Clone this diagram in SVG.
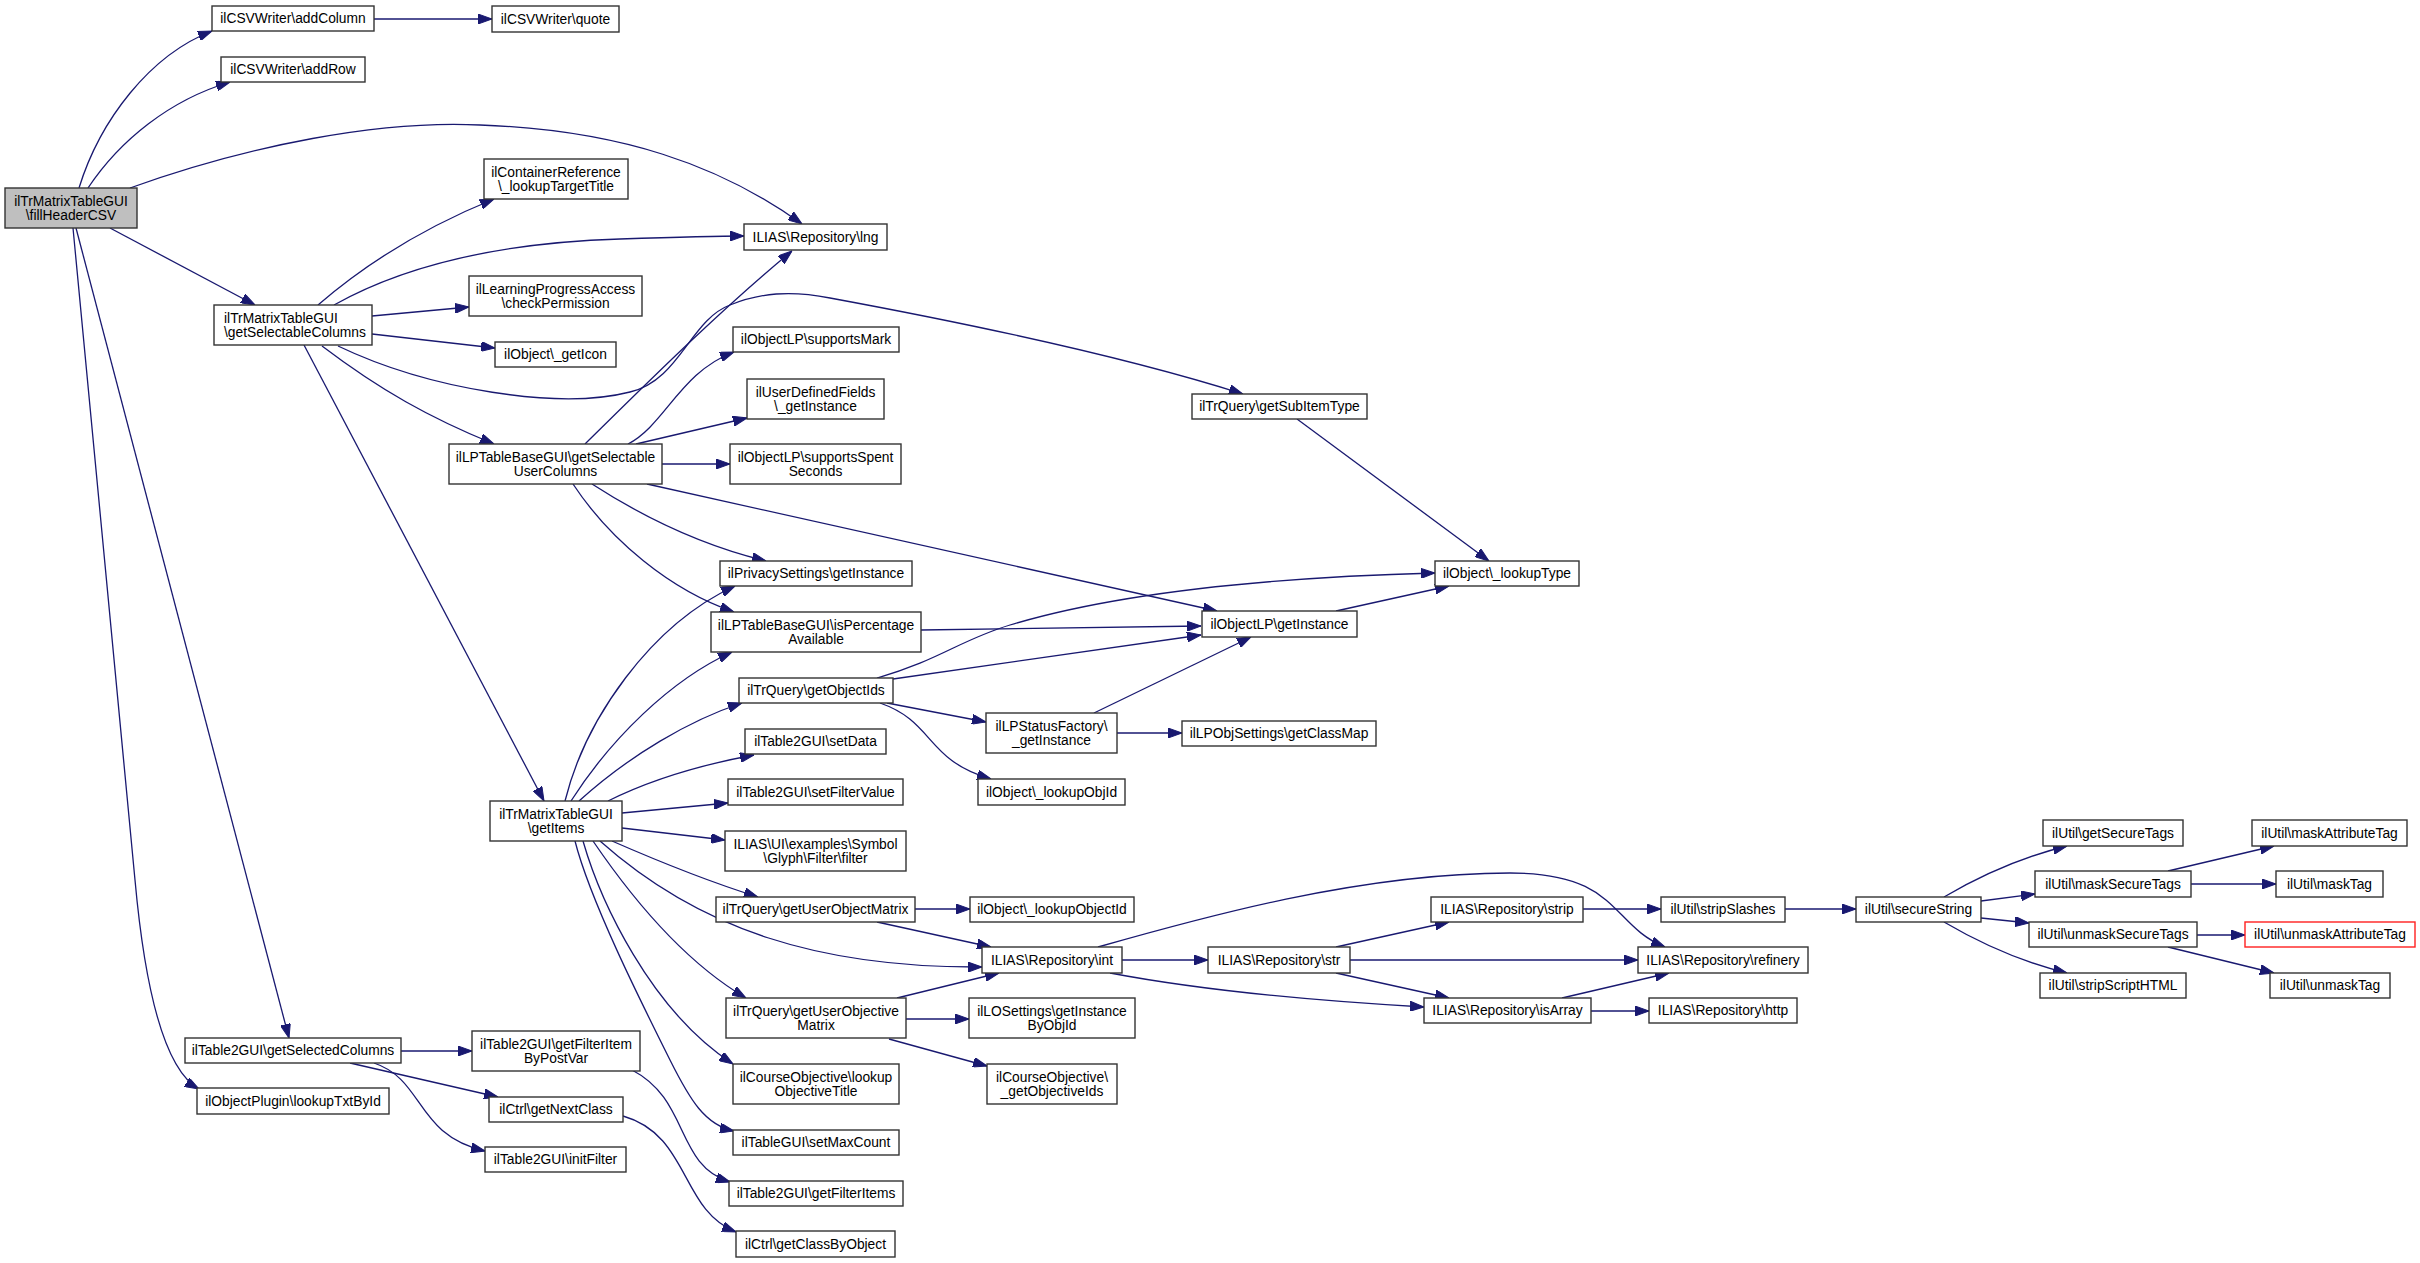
<svg xmlns="http://www.w3.org/2000/svg" width="2420" height="1263" viewBox="0 0 2420 1263">
<defs>
<style>
.n rect{fill:#fff;stroke:#333;stroke-width:1.4}
.n.root rect{fill:#bfbfbf}
.n.red rect{stroke:#ff2020}
.n text{font-family:"Liberation Sans",Arial,Helvetica,sans-serif;font-size:13.8px;fill:#000;text-anchor:middle}
.e path{fill:none;stroke:#191970;stroke-width:1.3;marker-end:url(#a)}
</style>
<marker id="a" viewBox="0 0 14 10" refX="14" refY="5" markerWidth="14" markerHeight="10" markerUnits="userSpaceOnUse" orient="auto">
<path d="M0,0 L14,5 L0,10 z" fill="#191970" stroke="#191970" stroke-width="1"/>
</marker>
</defs>
<rect width="2420" height="1263" fill="#fff"/>
<g class="e" id="edges">
<path d="M79,188 C100,120 150,55 212,31"/>
<path d="M88,188 C120,140 170,100 230,82"/>
<path d="M130,188 C250,145 380,120 480,125 C620,130 720,165 802,224"/>
<path d="M110,228 L255,305"/>
<path d="M76,228 L289,1038"/>
<path d="M73,228 L135,880 C145,990 165,1070 199,1089"/>
<path d="M318,305 C370,260 430,225 494,199"/>
<path d="M334,305 C400,268 490,243 620,239 C680,237 710,236 744,236"/>
<path d="M372,316 L469,307"/>
<path d="M372,334 L495,348"/>
<path d="M338,346 C430,390 560,410 630,392 C680,380 690,320 730,305 C760,293 790,290 830,298 C960,322 1120,355 1243,394"/>
<path d="M322,346 C380,390 430,418 494,444"/>
<path d="M304,345 L544,801"/>
<path d="M585,444 C640,390 720,310 792,251"/>
<path d="M628,444 C665,425 680,372 734,352"/>
<path d="M636,444 L747,418"/>
<path d="M662,464 L730,464"/>
<path d="M592,484 C640,515 700,545 766,561"/>
<path d="M573,484 C610,540 670,590 734,612"/>
<path d="M647,484 L1217,611"/>
<path d="M565,801 C585,720 650,625 735,586"/>
<path d="M571,801 C610,740 670,680 732,652"/>
<path d="M579,801 C630,755 690,720 742,703"/>
<path d="M608,801 C650,780 700,765 754,755"/>
<path d="M622,813 L728,803"/>
<path d="M622,828 L725,840"/>
<path d="M612,841 C660,862 710,882 758,897"/>
<path d="M600,841 C700,930 820,968 982,967"/>
<path d="M593,841 C640,910 690,965 746,998"/>
<path d="M583,841 C600,900 650,1010 733,1064"/>
<path d="M575,841 C590,900 640,1000 670,1060 C690,1100 705,1125 734,1131"/>
<path d="M877,678 C940,660 960,640 1010,625 C1110,595 1250,578 1435,573"/>
<path d="M893,679 L1201,635"/>
<path d="M887,703 L986,722"/>
<path d="M880,703 C935,722 925,760 991,779"/>
<path d="M921,630 L1201,626"/>
<path d="M1094,713 L1251,637"/>
<path d="M1117,733 L1182,733"/>
<path d="M1336,611 L1449,586"/>
<path d="M1297,419 L1489,561"/>
<path d="M915,909 L970,909"/>
<path d="M877,922 L991,947"/>
<path d="M897,998 L999,973"/>
<path d="M906,1019 L969,1019"/>
<path d="M889,1039 L987,1066"/>
<path d="M401,1051 L472,1051"/>
<path d="M350,1063 L498,1097"/>
<path d="M374,1063 C425,1080 415,1135 485,1151"/>
<path d="M632,1070 C690,1100 675,1165 730,1182"/>
<path d="M623,1116 C690,1135 680,1210 736,1232"/>
<path d="M1122,960 L1208,960"/>
<path d="M1098,947 C1200,918 1360,873 1510,873 C1620,873 1610,925 1665,947"/>
<path d="M1110,973 C1200,990 1300,1000 1424,1007"/>
<path d="M1336,947 L1449,922"/>
<path d="M1350,960 L1638,960"/>
<path d="M1336,973 L1449,998"/>
<path d="M1583,909 L1661,909"/>
<path d="M1785,909 L1856,909"/>
<path d="M1562,998 L1669,973"/>
<path d="M1591,1011 L1649,1011"/>
<path d="M1944,897 C1990,870 2030,855 2067,846"/>
<path d="M1981,901 L2035,894"/>
<path d="M1981,918 L2029,923"/>
<path d="M1944,922 C1990,949 2030,964 2067,973"/>
<path d="M2168,871 L2274,846"/>
<path d="M2191,884 L2276,884"/>
<path d="M2197,935 L2245,935"/>
<path d="M2168,947 L2274,973"/>
<path d="M374,19 L492,19"/>
</g>
<g class="n root" id="fillHeaderCSV"><rect x="5" y="188" width="132" height="40"/><text x="71" y="205.5">ilTrMatrixTableGUI</text><text x="71" y="219.5">\fillHeaderCSV</text></g>
<g class="n" id="addColumn"><rect x="212" y="6" width="162" height="25"/><text x="293" y="23">ilCSVWriter\addColumn</text></g>
<g class="n" id="quote"><rect x="492" y="6" width="127" height="26"/><text x="555.5" y="23.5">ilCSVWriter\quote</text></g>
<g class="n" id="addRow"><rect x="221" y="57" width="144" height="25"/><text x="293" y="74">ilCSVWriter\addRow</text></g>
<g class="n" id="lookupTargetTitle"><rect x="484" y="159" width="144" height="40"/><text x="556" y="176.5">ilContainerReference</text><text x="556" y="190.5">\_lookupTargetTitle</text></g>
<g class="n" id="lng"><rect x="744" y="224" width="143" height="26"/><text x="815.5" y="241.5">ILIAS\Repository\lng</text></g>
<g class="n" id="checkPermission"><rect x="469" y="276" width="173" height="40"/><text x="555.5" y="293.5">ilLearningProgressAccess</text><text x="555.5" y="307.5">\checkPermission</text></g>
<g class="n" id="getSelectableColumns"><rect x="214" y="305" width="158" height="40"/><text x="224" y="322.5" style="text-anchor:start">ilTrMatrixTableGUI</text><text x="224" y="336.5" style="text-anchor:start">\getSelectableColumns</text></g>
<g class="n" id="getIcon"><rect x="495" y="342" width="121" height="25"/><text x="555.5" y="359">ilObject\_getIcon</text></g>
<g class="n" id="supportsMark"><rect x="733" y="327" width="166" height="25"/><text x="816" y="344">ilObjectLP\supportsMark</text></g>
<g class="n" id="udfGetInstance"><rect x="747" y="379" width="137" height="40"/><text x="815.5" y="396.5">ilUserDefinedFields</text><text x="815.5" y="410.5">\_getInstance</text></g>
<g class="n" id="getSubItemType"><rect x="1192" y="394" width="175" height="25"/><text x="1279.5" y="411">ilTrQuery\getSubItemType</text></g>
<g class="n" id="getSelectableUserColumns"><rect x="449" y="444" width="213" height="40"/><text x="555.5" y="461.5">ilLPTableBaseGUI\getSelectable</text><text x="555.5" y="475.5">UserColumns</text></g>
<g class="n" id="supportsSpentSeconds"><rect x="730" y="444" width="171" height="40"/><text x="815.5" y="461.5">ilObjectLP\supportsSpent</text><text x="815.5" y="475.5">Seconds</text></g>
<g class="n" id="privacyGetInstance"><rect x="720" y="561" width="192" height="25"/><text x="816" y="578">ilPrivacySettings\getInstance</text></g>
<g class="n" id="lookupType"><rect x="1435" y="561" width="144" height="25"/><text x="1507" y="578">ilObject\_lookupType</text></g>
<g class="n" id="isPercentageAvailable"><rect x="711" y="612" width="210" height="40"/><text x="816" y="629.5">ilLPTableBaseGUI\isPercentage</text><text x="816" y="643.5">Available</text></g>
<g class="n" id="objectLPGetInstance"><rect x="1202" y="611" width="155" height="26"/><text x="1279.5" y="628.5">ilObjectLP\getInstance</text></g>
<g class="n" id="getObjectIds"><rect x="739" y="678" width="154" height="25"/><text x="816" y="695">ilTrQuery\getObjectIds</text></g>
<g class="n" id="lpStatusFactory"><rect x="986" y="713" width="131" height="40"/><text x="1051.5" y="730.5">ilLPStatusFactory\</text><text x="1051.5" y="744.5">_getInstance</text></g>
<g class="n" id="getClassMap"><rect x="1182" y="721" width="194" height="25"/><text x="1279" y="738">ilLPObjSettings\getClassMap</text></g>
<g class="n" id="setData"><rect x="745" y="729" width="141" height="25"/><text x="815.5" y="746">ilTable2GUI\setData</text></g>
<g class="n" id="setFilterValue"><rect x="728" y="779" width="175" height="26"/><text x="815.5" y="796.5">ilTable2GUI\setFilterValue</text></g>
<g class="n" id="lookupObjId"><rect x="978" y="779" width="147" height="26"/><text x="1051.5" y="796.5">ilObject\_lookupObjId</text></g>
<g class="n" id="getItems"><rect x="490" y="801" width="132" height="40"/><text x="556" y="818.5">ilTrMatrixTableGUI</text><text x="556" y="832.5">\getItems</text></g>
<g class="n" id="filter"><rect x="725" y="831" width="181" height="40"/><text x="815.5" y="848.5">ILIAS\UI\examples\Symbol</text><text x="815.5" y="862.5">\Glyph\Filter\filter</text></g>
<g class="n" id="getSecureTags"><rect x="2043" y="820" width="140" height="26"/><text x="2113" y="837.5">ilUtil\getSecureTags</text></g>
<g class="n" id="maskAttributeTag"><rect x="2252" y="820" width="155" height="26"/><text x="2329.5" y="837.5">ilUtil\maskAttributeTag</text></g>
<g class="n" id="maskSecureTags"><rect x="2035" y="871" width="156" height="26"/><text x="2113" y="888.5">ilUtil\maskSecureTags</text></g>
<g class="n" id="maskTag"><rect x="2276" y="871" width="107" height="26"/><text x="2329.5" y="888.5">ilUtil\maskTag</text></g>
<g class="n" id="getUserObjectMatrix"><rect x="716" y="897" width="199" height="25"/><text x="815.5" y="914">ilTrQuery\getUserObjectMatrix</text></g>
<g class="n" id="lookupObjectId"><rect x="970" y="897" width="164" height="25"/><text x="1052" y="914">ilObject\_lookupObjectId</text></g>
<g class="n" id="strip"><rect x="1431" y="897" width="152" height="25"/><text x="1507" y="914">ILIAS\Repository\strip</text></g>
<g class="n" id="stripSlashes"><rect x="1661" y="897" width="124" height="25"/><text x="1723" y="914">ilUtil\stripSlashes</text></g>
<g class="n" id="secureString"><rect x="1856" y="897" width="125" height="25"/><text x="1918.5" y="914">ilUtil\secureString</text></g>
<g class="n" id="unmaskSecureTags"><rect x="2029" y="922" width="168" height="25"/><text x="2113" y="939">ilUtil\unmaskSecureTags</text></g>
<g class="n red" id="unmaskAttributeTag"><rect x="2245" y="922" width="170" height="25"/><text x="2330" y="939">ilUtil\unmaskAttributeTag</text></g>
<g class="n" id="int"><rect x="982" y="947" width="140" height="26"/><text x="1052" y="964.5">ILIAS\Repository\int</text></g>
<g class="n" id="str"><rect x="1208" y="947" width="142" height="26"/><text x="1279" y="964.5">ILIAS\Repository\str</text></g>
<g class="n" id="refinery"><rect x="1638" y="947" width="170" height="26"/><text x="1723" y="964.5">ILIAS\Repository\refinery</text></g>
<g class="n" id="stripScriptHTML"><rect x="2040" y="973" width="146" height="25"/><text x="2113" y="990">ilUtil\stripScriptHTML</text></g>
<g class="n" id="unmaskTag"><rect x="2270" y="973" width="120" height="25"/><text x="2330" y="990">ilUtil\unmaskTag</text></g>
<g class="n" id="isArray"><rect x="1424" y="998" width="167" height="25"/><text x="1507.5" y="1015">ILIAS\Repository\isArray</text></g>
<g class="n" id="http"><rect x="1649" y="998" width="148" height="25"/><text x="1723" y="1015">ILIAS\Repository\http</text></g>
<g class="n" id="getUserObjectiveMatrix"><rect x="726" y="998" width="180" height="40"/><text x="816" y="1015.5">ilTrQuery\getUserObjective</text><text x="816" y="1029.5">Matrix</text></g>
<g class="n" id="getInstanceByObjId"><rect x="969" y="998" width="166" height="40"/><text x="1052" y="1015.5">ilLOSettings\getInstance</text><text x="1052" y="1029.5">ByObjId</text></g>
<g class="n" id="getFilterItemByPostVar"><rect x="472" y="1031" width="168" height="40"/><text x="556" y="1048.5">ilTable2GUI\getFilterItem</text><text x="556" y="1062.5">ByPostVar</text></g>
<g class="n" id="getSelectedColumns"><rect x="185" y="1038" width="216" height="25"/><text x="293" y="1055">ilTable2GUI\getSelectedColumns</text></g>
<g class="n" id="lookupObjectiveTitle"><rect x="733" y="1064" width="166" height="40"/><text x="816" y="1081.5">ilCourseObjective\lookup</text><text x="816" y="1095.5">ObjectiveTitle</text></g>
<g class="n" id="getObjectiveIds"><rect x="987" y="1064" width="130" height="40"/><text x="1052" y="1081.5">ilCourseObjective\</text><text x="1052" y="1095.5">_getObjectiveIds</text></g>
<g class="n" id="lookupTxtById"><rect x="197" y="1088" width="192" height="26"/><text x="293" y="1105.5">ilObjectPlugin\lookupTxtById</text></g>
<g class="n" id="getNextClass"><rect x="489" y="1097" width="134" height="25"/><text x="556" y="1114">ilCtrl\getNextClass</text></g>
<g class="n" id="setMaxCount"><rect x="733" y="1130" width="166" height="25"/><text x="816" y="1147">ilTableGUI\setMaxCount</text></g>
<g class="n" id="initFilter"><rect x="485" y="1147" width="141" height="25"/><text x="555.5" y="1164">ilTable2GUI\initFilter</text></g>
<g class="n" id="getFilterItems"><rect x="729" y="1181" width="174" height="25"/><text x="816" y="1198">ilTable2GUI\getFilterItems</text></g>
<g class="n" id="getClassByObject"><rect x="736" y="1231" width="159" height="26"/><text x="815.5" y="1248.5">ilCtrl\getClassByObject</text></g>
</svg>
